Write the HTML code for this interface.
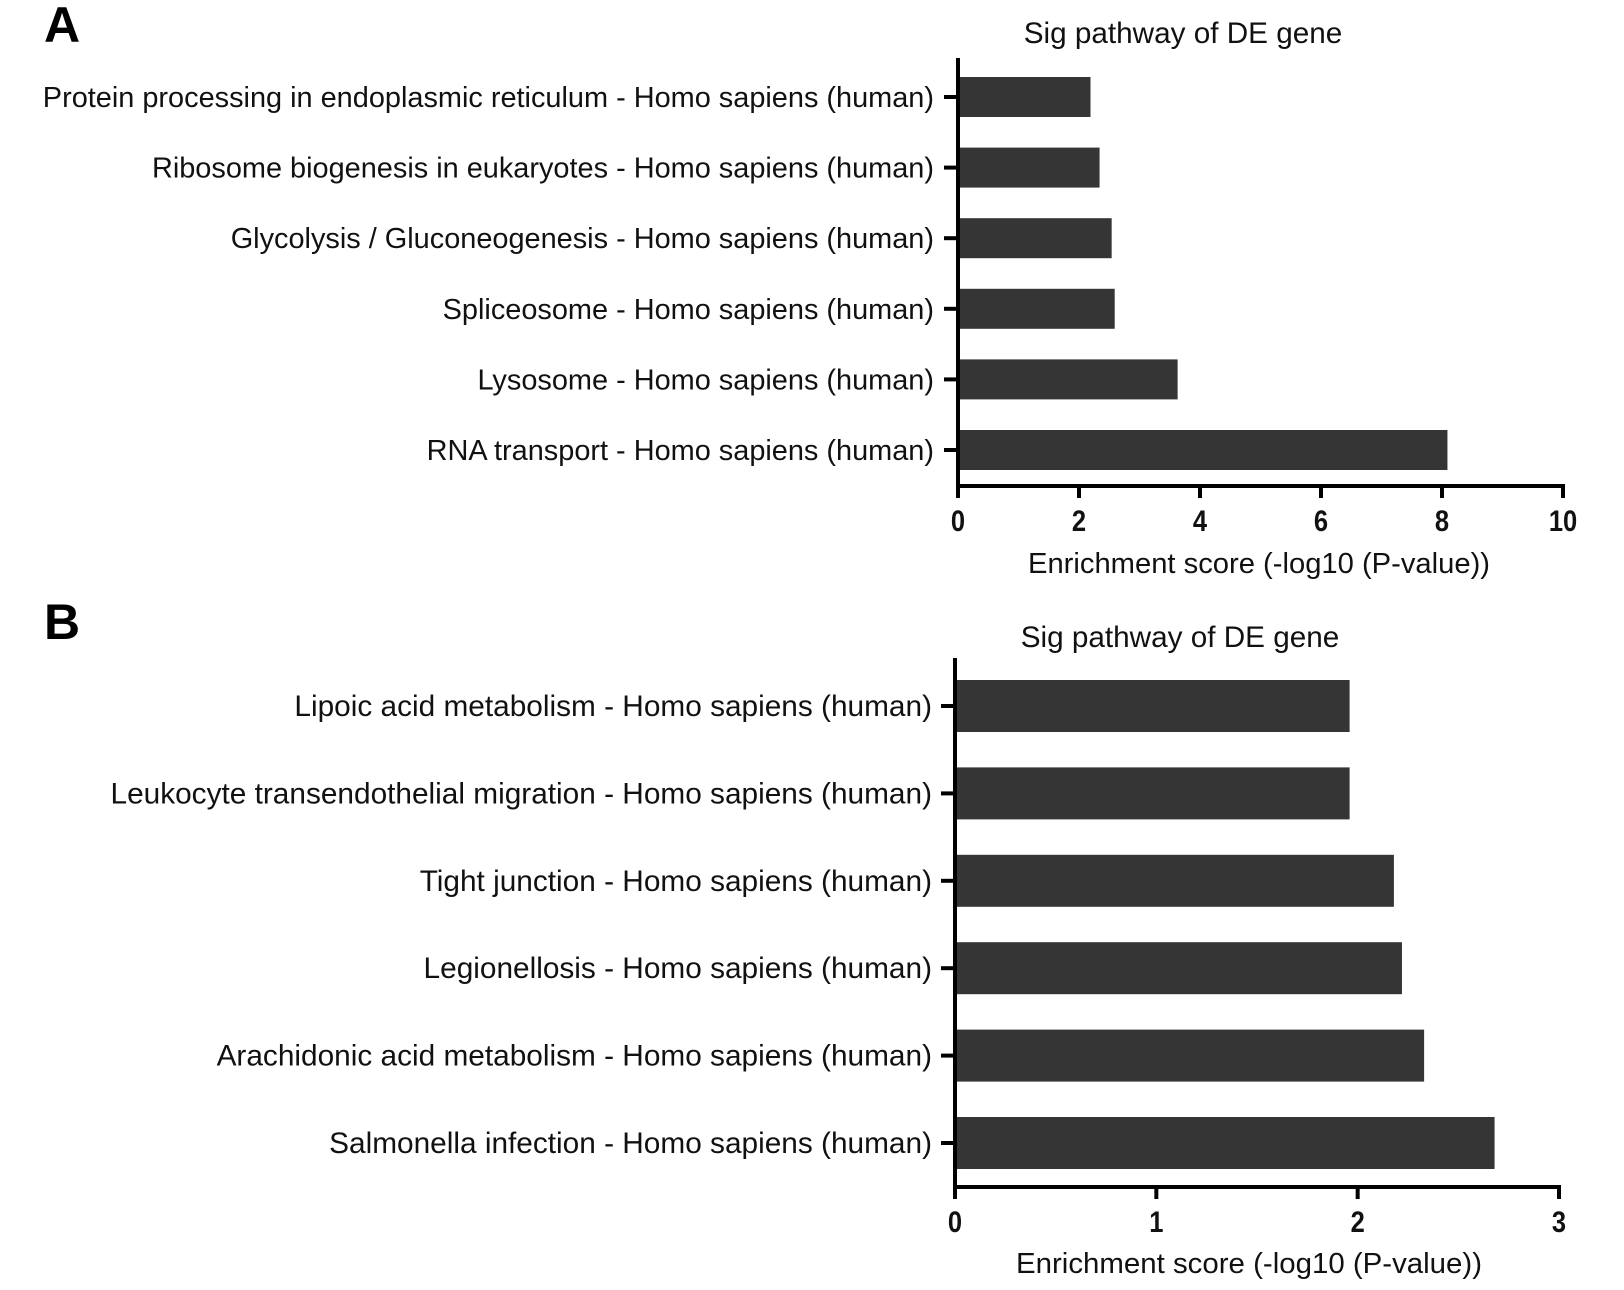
<!DOCTYPE html>
<html><head><meta charset="utf-8"><style>
html,body{margin:0;padding:0;background:#fff;}
svg{display:block;font-family:"Liberation Sans",Arial,sans-serif;}
</style></head><body>
<svg id="chart" width="1624" height="1290" viewBox="0 0 1624 1290" xmlns="http://www.w3.org/2000/svg">
<text x="44" y="42" font-size="50" font-weight="bold" fill="#000">A</text>
<text x="44" y="639" font-size="50" font-weight="bold" fill="#000">B</text>
<text x="1183" y="43" font-size="29.7" text-anchor="middle" fill="#111">Sig pathway of DE gene</text>
<text x="1180" y="647" font-size="29.7" text-anchor="middle" fill="#111">Sig pathway of DE gene</text>
<text x="1028" y="573" font-size="29" fill="#111" textLength="462" lengthAdjust="spacingAndGlyphs">Enrichment score (-log10 (P-value))</text>
<text x="1016" y="1273" font-size="29" fill="#111" textLength="466" lengthAdjust="spacingAndGlyphs">Enrichment score (-log10 (P-value))</text>
<g id="ga"></g>
<g id="gb"></g>
</svg>
<script>
const catsA = ["Protein processing in endoplasmic reticulum - Homo sapiens (human)","Ribosome biogenesis in eukaryotes - Homo sapiens (human)","Glycolysis / Gluconeogenesis - Homo sapiens (human)","Spliceosome - Homo sapiens (human)","Lysosome - Homo sapiens (human)","RNA transport - Homo sapiens (human)"];
const valsA = [2.19, 2.34, 2.54, 2.59, 3.63, 8.09];
const ticksA = [0, 2, 4, 6, 8, 10];
const catsB = ["Lipoic acid metabolism - Homo sapiens (human)","Leukocyte transendothelial migration - Homo sapiens (human)","Tight junction - Homo sapiens (human)","Legionellosis - Homo sapiens (human)","Arachidonic acid metabolism - Homo sapiens (human)","Salmonella infection - Homo sapiens (human)"];
const valsB = [1.96, 1.96, 2.18, 2.22, 2.33, 2.68];
const ticksB = [0, 1, 2, 3];

const NS = "http://www.w3.org/2000/svg";
function mk(parent, tag, attrs){const e=document.createElementNS(NS,tag);for(const k in attrs)e.setAttribute(k,attrs[k]);parent.appendChild(e);return e;}

function drawPanel(g, prefix, cats, vals, ticks, cfg){
  const xScale = v => cfg.x0 + (v - ticks[0]) / (ticks[ticks.length-1] - ticks[0]) * (cfg.x1 - cfg.x0);
  const yScale = i => cfg.c0 + i * cfg.step;
  cats.forEach((c,i)=>{
    const cy = yScale(i);
    const r = mk(g,'rect',{x:xScale(0),y:cy-cfg.bh/2,width:xScale(vals[i])-xScale(0),height:cfg.bh,fill:'#353535'});
    
    
    const tk = mk(g,'line',{x1:cfg.x0-14,x2:cfg.x0,y1:cy,y2:cy,stroke:'#000','stroke-width':4});
    
    
    const t = mk(g,'text',{x:cfg.labelEnd,y:cy+10,'font-size':cfg.fs,'text-anchor':'end',fill:'#111'});
    t.textContent = c;
    
    
  });
  const ya = mk(g,'line',{x1:cfg.x0,x2:cfg.x0,y1:cfg.top,y2:cfg.axisY+2,stroke:'#000','stroke-width':4});
  
  
  const xa = mk(g,'line',{x1:cfg.x0-2,x2:cfg.x1+2,y1:cfg.axisY,y2:cfg.axisY,stroke:'#000','stroke-width':4});
  
  
  ticks.forEach(v=>{
    const x = xScale(v);
    const l = mk(g,'line',{x1:x,x2:x,y1:cfg.axisY,y2:cfg.axisY+12,stroke:'#000','stroke-width':4});
    
    
    const t = mk(g,'text',{x:x,y:cfg.axisY+45,'font-size':30,'font-weight':'bold','text-anchor':'middle',fill:'#111',transform:'translate('+x+',0) scale(0.85,1) translate('+(-x)+',0)'});
    t.textContent = String(v);
    
    
  });
}
drawPanel(document.getElementById('ga'),'panel-a',catsA,valsA,ticksA,{x0:958,x1:1563,c0:97,step:70.6,bh:40,top:58,axisY:486,labelEnd:934,fs:28.9});
drawPanel(document.getElementById('gb'),'panel-b',catsB,valsB,ticksB,{x0:955,x1:1559,c0:706,step:87.4,bh:52,top:658,axisY:1187,labelEnd:932,fs:29.8});
</script>
</body></html>
